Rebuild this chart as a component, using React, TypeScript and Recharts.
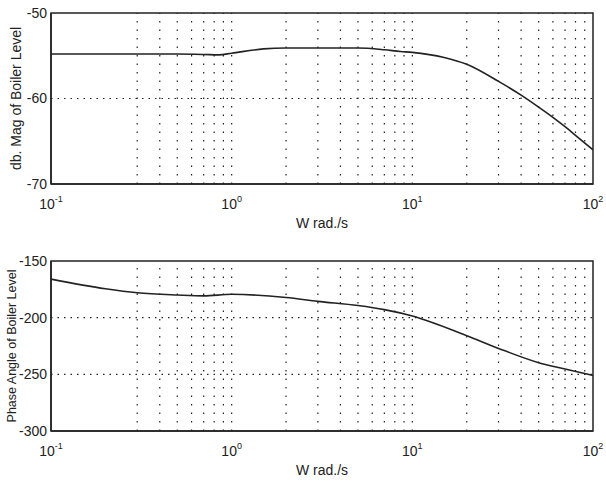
import React from "react";
import {
  LineChart,
  Line,
  XAxis,
  YAxis,
  ReferenceLine,
  ReferenceArea,
} from "recharts";

// frequency points (rad/s)
const magFreq = [0.1, 0.2, 0.3, 0.5, 0.7, 0.85, 1, 1.5, 2, 3, 5, 7, 8.6, 10, 15, 20, 30, 40, 50, 60, 70, 80, 100];
const magDb = [-54.8, -54.8, -54.8, -54.8, -54.85, -54.9, -54.7, -54.2, -54.1, -54.1, -54.1, -54.3, -54.5, -54.6, -55.2, -56.0, -58.0, -59.6, -61.0, -62.2, -63.3, -64.3, -66.0];

const phaseFreq = [0.1, 0.2, 0.3, 0.5, 0.7, 1, 2, 3, 5, 7, 10, 20, 30, 50, 70, 100];
const phaseDeg = [-166, -174.5, -178, -180, -180.8, -179.4, -182.2, -185.6, -189.3, -192.9, -198.5, -215.9, -227.1, -239.7, -245.3, -251];

const xTicks = [0.1, 1, 10, 100];
const xExp = ["-1", "0", "1", "2"];
// dotted log grid (no line at 0.2 in the scan)
const gridX = [0.3, 0.4, 0.5, 0.6, 0.7, 0.8, 0.9, 1, 2, 3, 4, 5, 6, 7, 8, 9, 10, 20, 30, 40, 50, 60, 70, 80, 90];

const magTicks = [-70, -60, -50];
const magGridY = [-60];
const phaseTicks = [-300, -250, -200, -150];
const phaseGridY = [-250, -200];

const magData = magFreq.map((w, i) => ({ w, v: magDb[i] }));
const phaseData = phaseFreq.map((w, i) => ({ w, v: phaseDeg[i] }));

const ink = "#222";
const font = "'Liberation Sans', Arial, sans-serif";

const PowTick = (props: any) => {
  const { x, y, payload } = props;
  const idx = xTicks.indexOf(payload.value);
  return (
    <text x={x} y={y} dy={21} textAnchor="middle" fill={ink} fontSize={14} fontFamily={font}>
      10
      <tspan dy={-7} fontSize={9}>{xExp[idx]}</tspan>
    </text>
  );
};

interface PanelProps {
  data: { w: number; v: number }[];
  domain: [number, number];
  ticks: number[];
  gridY: number[];
  yLabel: string;
  yLabelSize: number;
  labelOffset: number;
  height: number;
  top: number;
  bottom: number;
}

const Panel: React.FC<PanelProps> = ({ data, domain, ticks, gridY, yLabel, yLabelSize, labelOffset, height, top, bottom }) => (
  <LineChart width={606} height={height} data={data} margin={{ top, right: 13, left: 0, bottom }}>
    <XAxis
      dataKey="w"
      type="number"
      scale="log"
      domain={[0.1, 100]}
      ticks={xTicks}
      allowDataOverflow
      tick={<PowTick />}
      tickLine={false}
      tickSize={0}
      tickMargin={4}
      axisLine={{ stroke: ink, strokeWidth: 1.5 }}
      height={50}
      label={{ value: "W rad./s", position: "insideBottom", offset: 6, fill: ink, fontSize: 14, fontFamily: font }}
    />
    <YAxis
      type="number"
      domain={domain}
      ticks={ticks}
      allowDataOverflow
      width={51}
      tickLine={false}
      tickSize={0}
      tickMargin={4}
      axisLine={{ stroke: ink, strokeWidth: 1.5 }}
      tick={{ fill: ink, fontSize: 14, fontFamily: font }}
      label={{
        value: yLabel,
        angle: -90,
        position: "insideLeft",
        offset: labelOffset,
        fill: ink,
        fontSize: yLabelSize,
        fontFamily: font,
        style: { textAnchor: "middle" },
      }}
    />
    {gridX.map((g) => (
      <ReferenceLine key={`gx-${g}`} x={g} stroke={ink} strokeWidth={1.2} strokeDasharray="1.5 7" />
    ))}
    {gridY.map((g) => (
      <ReferenceLine key={`gy-${g}`} y={g} stroke={ink} strokeWidth={1.2} strokeDasharray="1.5 5" />
    ))}
    <ReferenceArea x1={0.1} x2={100} y1={domain[0]} y2={domain[1]} fill="none" stroke={ink} strokeWidth={1.5} />
    <Line
      type="monotone"
      dataKey="v"
      stroke={ink}
      strokeWidth={1.6}
      dot={false}
      isAnimationActive={false}
    />
  </LineChart>
);

export default function App() {
  return (
    <div style={{ position: "absolute", left: 0, top: 0, width: 606, height: 481, background: "#fff" }}>
      <Panel
        data={magData}
        domain={[-70, -50]}
        ticks={magTicks}
        gridY={magGridY}
        yLabel="db. Mag of Boiler Level"
        yLabelSize={14}
        labelOffset={16}
        height={240}
        top={13}
        bottom={6}
      />
      <Panel
        data={phaseData}
        domain={[-300, -150]}
        ticks={phaseTicks}
        gridY={phaseGridY}
        yLabel="Phase Angle of Boiler Level"
        yLabelSize={12.5}
        labelOffset={12}
        height={241}
        top={21}
        bottom={0}
      />
    </div>
  );
}
